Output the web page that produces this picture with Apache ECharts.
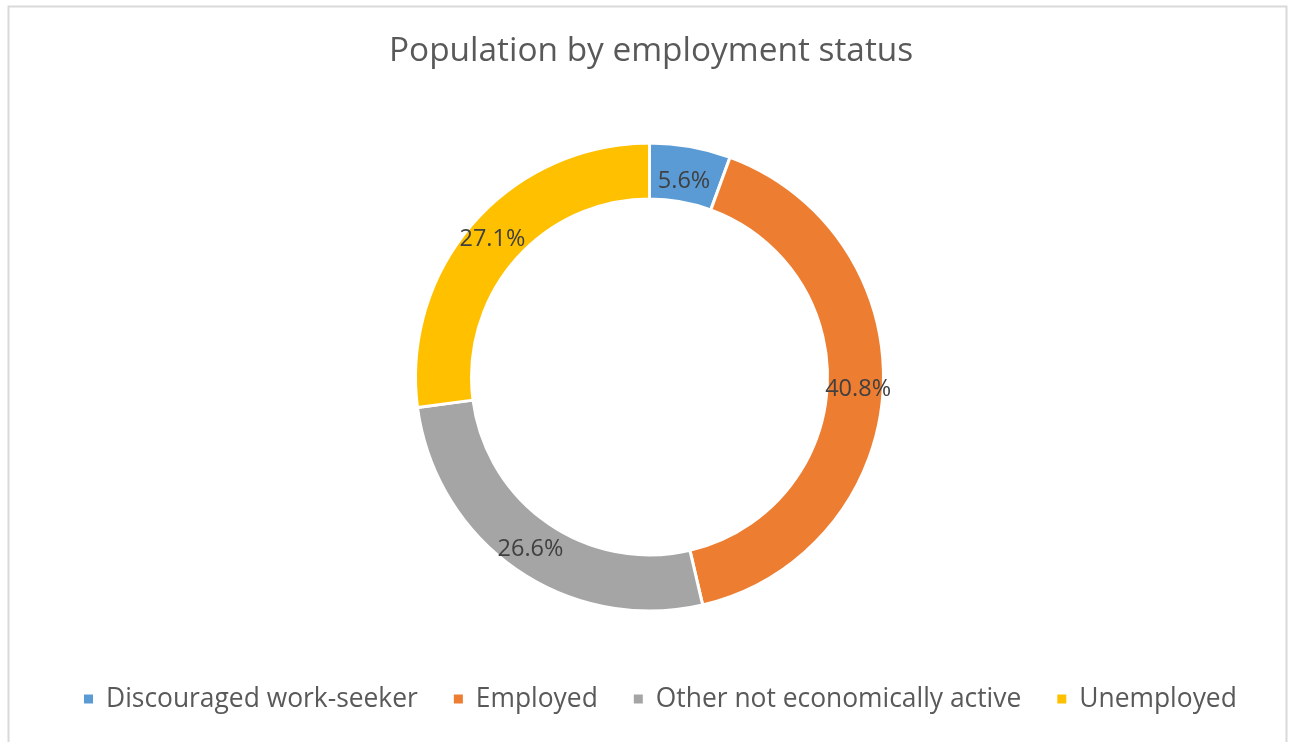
<!DOCTYPE html>
<html>
<head>
<meta charset="utf-8">
<script src="https://cdn.jsdelivr.net/npm/echarts@6/dist/echarts.min.js"></script>
<style>
html,body{margin:0;padding:0;background:#fff;}
#chart{width:1289px;height:742px;}
</style>
</head>
<body>
<div id="chart"></div>
<script>
const titleText = 'Population by employment status';
const categories = ['Discouraged work-seeker', 'Employed', 'Other not economically active', 'Unemployed'];
const values = [5.6, 40.8, 26.6, 27.1];
const colors = ['#5B9BD5', '#ED7D31', '#A5A5A5', '#FFC000'];

const FONT = '"Open Sans", sans-serif';
const chart = echarts.init(document.getElementById('chart'), null, {renderer: 'canvas'});
chart.setOption({
  animation: false,
  backgroundColor: '#fff',
  color: colors,
  title: {
    text: titleText,
    left: 384,
    top: 30,
    textStyle: {fontFamily: FONT, fontSize: 33.4, fontWeight: 'normal', color: '#595959'}
  },
  legend: {
    data: categories,
    bottom: 25,
    left: 77,
    itemWidth: 11,
    itemHeight: 11,
    itemGap: 34,
    icon: 'rect',
    textStyle: {fontFamily: FONT, fontSize: 26.4, color: '#595959', padding: [0, 0, 0, 7]}
  },
  graphic: [{
    type: 'rect',
    shape: {x: 8.5, y: 6.5, width: 1278, height: 760},
    style: {fill: 'none', stroke: '#d9d9d9', lineWidth: 2},
    silent: true
  }],
  series: [{
    type: 'pie',
    center: [649.5, 377],
    radius: [178, 234],
    startAngle: 90,
    clockwise: true,
    avoidLabelOverlap: false,
    itemStyle: {borderColor: '#fff', borderWidth: 3},
    label: {
      show: true,
      position: 'inside',
      formatter: p => p.value.toFixed(1) + '%',
      fontFamily: FONT,
      fontSize: 23.5,
      color: '#404040'
    },
    labelLine: {show: false},
    emphasis: {disabled: true},
    data: categories.map((c, i) => ({
      name: c,
      value: values[i],
      label: i === 0 ? {offset: [-2, 10]} : undefined
    }))
  }]
});
</script>
</body>
</html>
